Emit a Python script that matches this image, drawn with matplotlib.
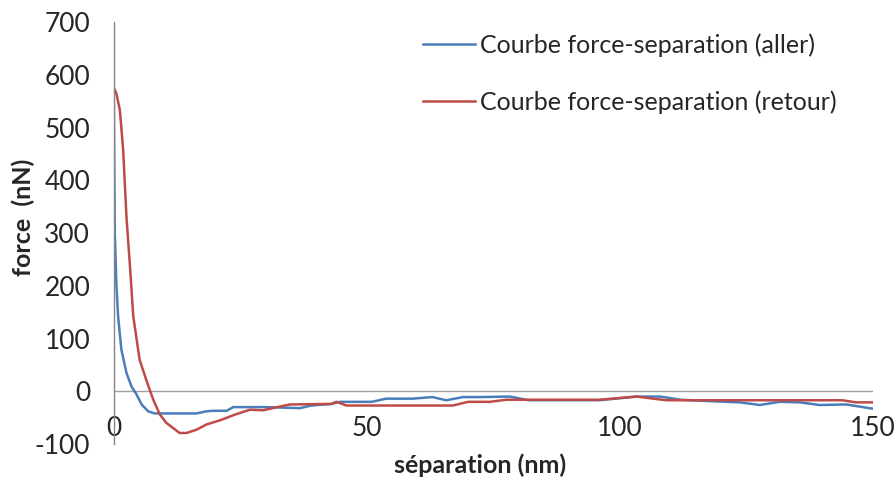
import matplotlib

matplotlib.use("Agg")
import matplotlib.pyplot as plt

# courbe aller (approche)
aller_x = [0, 0.1, 0.2, 0.5, 0.85, 1.5, 2.5, 3.5, 4.5, 5.5, 6.8, 8.1, 12, 16.3, 18.3,
           19.6, 22.3, 23.6, 30, 36.8, 39, 43, 44.7, 51, 53.8, 59, 63, 65.7, 69, 72.3,
           78.3, 82, 90, 96, 103.3, 108, 112, 118.5, 123.7, 127.7, 131.6, 135.6, 139.5,
           144.8, 150]
aller_f = [562, 426, 300, 205, 142, 79, 35, 9, -6, -25, -38, -42, -42, -42, -38,
           -37, -37, -30, -30, -32, -27, -24, -20, -20, -14, -14, -11, -17, -11, -11,
           -10, -17, -17, -17, -10, -10, -16, -19, -21, -26, -20, -21, -26,
           -25, -33]

# courbe retour
retour_x = [0, 0.5, 1.2, 1.85, 2.5, 3.2, 3.85, 5.1, 6.4, 7.8, 9.1, 10.4, 13, 14.4,
            16.3, 18.3, 21, 24, 26.9, 29.5, 32.8, 34.8, 43, 44, 46, 55, 67, 70, 74.3,
            77.6, 90, 96, 103.3, 109.2, 120, 144, 146.7, 150]
retour_f = [575, 565, 533, 458, 331, 237, 142, 60, 22, -16, -44, -60, -79, -79,
            -73, -63, -55, -44, -35, -36, -29, -25, -24, -20, -27, -27, -27, -20, -20,
            -16, -16, -16, -10, -17, -17, -17, -21, -21]

TEXT = "#262626"
plt.rcParams["font.family"] = ["Lato", "DejaVu Sans"]
plt.rcParams["axes.unicode_minus"] = False

fig = plt.figure(figsize=(8.96, 4.79), dpi=100)
ax = fig.add_axes([0.127, 0.073, 0.847, 0.881])

ax.plot(aller_x, aller_f, color="#4A7EBB", lw=1.8, label="Courbe force-separation (aller)")
ax.plot(retour_x, retour_f, color="#BE4B48", lw=1.8, label="Courbe force-separation (retour)")
ax.axhline(0, color="#A0A0A0", lw=1.0, zorder=1)

ax.set_xlim(0, 150)
ax.set_ylim(-100, 700)
ax.set_xticks([0, 50, 100, 150])
ax.set_yticks(range(-100, 701, 100))
ax.tick_params(length=0, labelsize=19, labelcolor=TEXT)
ax.tick_params(axis="y", pad=17)
ax.tick_params(axis="x", pad=-20)

for side in ("top", "right", "bottom"):
    ax.spines[side].set_visible(False)
ax.spines["left"].set_color("#868686")
ax.spines["left"].set_linewidth(1.0)

ax.set_xlabel("séparation (nm)", fontsize=18, fontweight="bold", color=TEXT)
ax.set_ylabel("force  (nN)", fontsize=18, fontweight="bold", color=TEXT)
ax.xaxis.set_label_coords(0.482, -0.05)
ax.yaxis.set_label_coords(-0.119, 0.538)
ax.xaxis.label.set_va("center")
ax.yaxis.label.set_va("center")

ax.legend(loc="upper left", bbox_to_anchor=(0.458, 0.957), bbox_transform=fig.transFigure,
          frameon=False, fontsize=18, handlelength=2.08, handletextpad=0.22,
          labelspacing=1.33, borderpad=0, labelcolor=TEXT)

fig.savefig("out.png", dpi=100)
